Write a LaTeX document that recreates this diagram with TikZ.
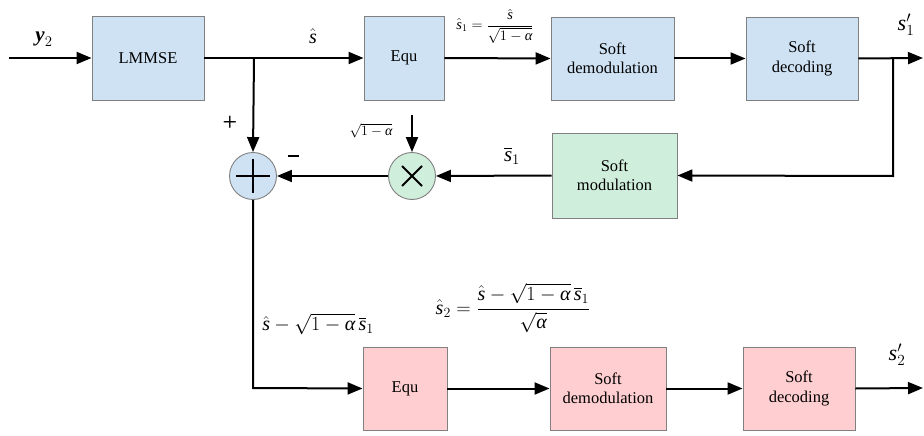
\RequirePackage{fix-cm}
\documentclass[tikz,border=0pt]{standalone}
\usepackage{amsmath}
\usepackage{bm}
\usepackage{fontspec}
\setmainfont{Liberation Serif}
\newfontfamily\lsitfam[NFSSFamily=lsit]{Liberation Serif}
\DeclareSymbolFont{lsi}{TU}{lsit}{m}{it}
\SetSymbolFont{lsi}{bold}{TU}{lsit}{b}{it}
\DeclareMathSymbol{s}{\mathalpha}{lsi}{`s}
\DeclareMathSymbol{y}{\mathalpha}{lsi}{`y}
\Umathchardef\myalpha="0 \symlsi "03B1
\usetikzlibrary{arrows.meta}
\definecolor{bluef}{RGB}{207,226,243}
\definecolor{greenf}{RGB}{208,238,220}
\definecolor{pinkf}{RGB}{255,206,208}
\definecolor{bord}{RGB}{128,128,128}
\tikzset{
  blk/.style={draw=bord, line width=0.9pt, align=center, inner sep=0pt,
    font=\fontsize{16.5}{19.5}\selectfont},
  bluebox/.style={blk, fill=bluef},
  greenbox/.style={blk, fill=greenf},
  pinkbox/.style={blk, fill=pinkf},
  op/.style={circle, draw=bord, line width=0.9pt, minimum size=47pt, inner sep=0pt},
  wire/.style={line width=2pt},
  arr/.style={wire, -{Triangle[length=15pt,width=12pt]}},
  lab/.style={inner sep=0pt},
}
\begin{document}
\begin{tikzpicture}[x=1pt,y=-1pt]
\useasboundingbox (0,0) rectangle (924,436);
% top row
\node[bluebox, minimum width=112pt, minimum height=84pt] (lmmse) at (148,58) {LMMSE};
\node[bluebox, minimum width=80pt, minimum height=84pt] (equ1) at (404,58) {Equ};
\node[bluebox, minimum width=123pt, minimum height=83pt] (dem1) at (612.5,58.5) {Soft\\demodulation};
\node[bluebox, minimum width=112pt, minimum height=83pt] (dec1) at (802,58.5) {Soft\\decoding};
% middle
\node[greenbox, minimum width=125pt, minimum height=85pt] (mod) at (614.5,175.5) {Soft\\modulation};
\node[op, fill=greenf] (mul) at (412,176) {};
\node[op, fill=bluef] (sum) at (253,176) {};
\draw[line width=1.8pt] ([shift={(-10,-10)}]mul.center) -- ([shift={(10,10)}]mul.center)
  ([shift={(-10,10)}]mul.center) -- ([shift={(10,-10)}]mul.center);
\draw[line width=1.8pt] ([shift={(-17,0)}]sum.center) -- ([shift={(17,0)}]sum.center)
  ([shift={(0,-17)}]sum.center) -- ([shift={(0,17)}]sum.center);
% bottom row
\node[pinkbox, minimum width=84pt, minimum height=83pt] (equ2) at (405,388.5) {Equ};
\node[pinkbox, minimum width=116pt, minimum height=83pt] (dem2) at (608,388.5) {Soft\\demodulation};
\node[pinkbox, minimum width=112pt, minimum height=83pt] (dec2) at (799,388.5) {Soft\\decoding};
% coordinates
\coordinate (in) at (9,58);
\coordinate (br1) at (254,58);
\coordinate (out1) at (923,58);
\coordinate (br2) at (893,58);
\coordinate (fb) at (893,176);
\coordinate (sq) at (412,115);
\coordinate (dn) at (253,388);
\coordinate (out2) at (923,388);
% connectors
\draw[arr] (in) -- (lmmse.west);
\draw[arr] (lmmse.east) -- (equ1.west);
\draw[arr] (br1) -- (sum.north);
\draw[arr] (equ1.east) -- (dem1.west);
\draw[arr] (dem1.east) -- (dec1.west);
\draw[arr] (dec1.east) -- (out1);
\draw[arr] (br2) -- (fb) -- (mod.east);
\draw[arr] (mod.west) -- (mul.east);
\draw[arr] (sq) -- (mul.north);
\draw[arr] (mul.west) -- (sum.east);
\draw[arr] (sum.south) -- (dn) -- (equ2.west);
\draw[arr] (equ2.east) -- (dem2.west);
\draw[arr] (dem2.east) -- (dec2.west);
\draw[arr] (dec2.east) -- (out2);
% labels
\node[lab, font=\fontsize{21}{24}\selectfont] (ly) at (44,39) {$\bm{y}_2$};
\node[lab, font=\fontsize{20}{24}\selectfont] (lsh) at (313,36) {$\hat{s}$};
\node[lab, font=\fontsize{14.5}{16}\selectfont] (ls1) at (495,26) {$\hat{s}_1=\dfrac{\hat{s}}{\sqrt{1-\myalpha}}$};
\node[lab, font=\fontsize{22}{25}\selectfont] (lo1) at (906,25) {$s_1'$};
\node[lab, font=\sffamily\bfseries\fontsize{17}{20}\selectfont] (lp) at (230,122) {+};
\node[lab] (lm) at (293,156) {\rule{11pt}{2pt}};
\node[lab, font=\fontsize{14}{16}\selectfont] (lsq) at (371,131) {$\sqrt{1-\myalpha}$};
\node[lab, font=\fontsize{21}{24}\selectfont] (lsb) at (512,156) {$\overline{s}_1$};
\node[lab, font=\fontsize{20}{23}\selectfont] (ldiff) at (318,324) {$\hat{s}-\sqrt{1-\myalpha}\,\overline{s}_1$};
\node[lab, font=\fontsize{20}{24}\selectfont] (ls2) at (513,308) {$\hat{s}_2=\dfrac{\hat{s}-\sqrt{1-\myalpha}\,\overline{s}_1}{\sqrt{\myalpha}}$};
\node[lab, font=\fontsize{22}{25}\selectfont] (lo2) at (897,355) {$s_2'$};
\end{tikzpicture}
\end{document}
